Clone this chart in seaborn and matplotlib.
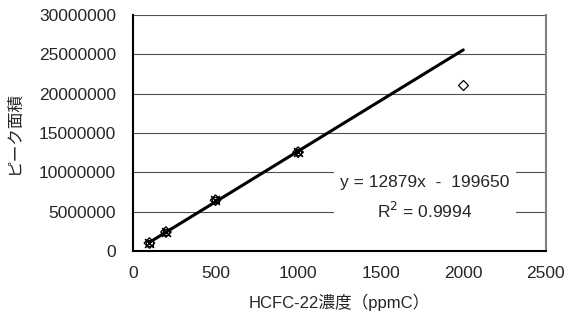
import matplotlib
matplotlib.use("Agg")
import matplotlib.pyplot as plt
import seaborn as sns
import numpy as np
import pandas as pd

conc = [100, 200, 500, 1000]
area = [1000000, 2400000, 6450000, 12550000]
outlier_conc = [2000]
outlier_area = [21100000]
fit_x = [100, 2000]
slope = 12879
intercept = -199650
r2 = 0.9994
yticks = [0, 5000000, 10000000, 15000000, 20000000, 25000000, 30000000]
xticks = [0, 500, 1000, 1500, 2000, 2500]

sns.set_theme(style="white")
plt.rcParams['font.family'] = ['Liberation Sans', 'Noto Sans CJK JP', 'DejaVu Sans']

fig = plt.figure(figsize=(5.68, 3.25), dpi=100)
ax = fig.add_axes([0.234, 0.228, 0.727, 0.726])

for yv in yticks[1:]:
    ax.axhline(yv, color='#505050', lw=0.8, zorder=0)

df_fit = pd.DataFrame({'x': fit_x, 'y': [slope * v + intercept for v in fit_x]})
sns.lineplot(data=df_fit, x='x', y='y', ax=ax, color='black', lw=2.2, zorder=3)

df = pd.DataFrame({'x': conc, 'y': area})
sns.scatterplot(data=df, x='x', y='y', ax=ax, marker='D', s=28, facecolor='none',
                edgecolor='black', linewidth=1.0, zorder=4)
sns.scatterplot(data=df, x='x', y='y', ax=ax, marker='x', s=40, color='black',
                linewidth=1.2, zorder=5)
sns.scatterplot(data=df, x='x', y='y', ax=ax, marker='s', s=22, facecolor='none',
                edgecolor='black', linewidth=0.8, zorder=5)
df_o = pd.DataFrame({'x': outlier_conc, 'y': outlier_area})
sns.scatterplot(data=df_o, x='x', y='y', ax=ax, marker='D', s=26, facecolor='white',
                edgecolor='black', linewidth=0.9, zorder=4)

ax.set_xlim(0, 2500)
ax.set_ylim(0, 30000000)
ax.set_xticks(xticks)
ax.set_yticks(yticks)
ax.set_xticklabels([str(v) for v in xticks], fontsize=12.5)
ax.set_yticklabels([str(v) for v in yticks], fontsize=12.5)
ax.tick_params(axis='both', direction='in', length=5, width=1, color='black')
ax.tick_params(axis='y', pad=12)
ax.tick_params(axis='x', pad=11)

for s in ['left', 'bottom']:
    ax.spines[s].set_color('black')
    ax.spines[s].set_linewidth(1.5)
ax.spines['top'].set_visible(False)
ax.spines['right'].set_color('#808080')
ax.spines['right'].set_linewidth(1.5)

ax.set_xlabel('HCFC-22濃度（ppmC）', fontsize=12, labelpad=9)
ax.set_ylabel('ピーク面積', fontsize=12, labelpad=12)

ax.text(1767, 6700000, f'y = {slope}x  -  {-intercept}\nR$^2$ = {r2}', ha='center', va='center',
        fontsize=12.5, linespacing=1.65,
        bbox=dict(facecolor='white', edgecolor='none', boxstyle='square,pad=0.35'), zorder=6)

fig.savefig('out.png', dpi=100)
